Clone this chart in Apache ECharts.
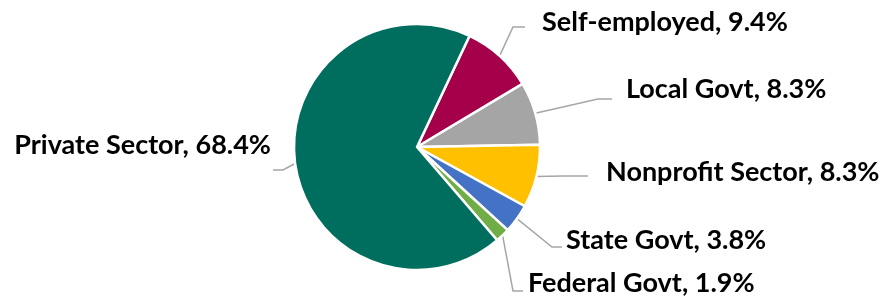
<!DOCTYPE html>
<html><head><meta charset="utf-8">
<script src="https://cdn.jsdelivr.net/npm/echarts@6/dist/echarts.min.js"></script>
<style>html,body{margin:0;padding:0;background:#fff}#c{width:887px;height:296px}</style>
</head><body><div id="c"></div>
<script>
const categories = ['Self-employed', 'Local Govt', 'Nonprofit Sector', 'State Govt', 'Federal Govt', 'Private Sector'];
const shares = [9.4, 8.3, 8.3, 3.8, 1.9, 68.4];
const colors = ['#A5004A', '#A5A5A5', '#FFC000', '#4472C4', '#70AD47', '#006E5F'];

// label placement (layout only): text anchor x,y, align, then leader elbow & end
const labelPlace = [
  {x: 542, y: 22, align: 'left', pts: [[513, 27], [525, 27]]},
  {x: 626, y: 89, align: 'left', pts: [[598, 99], [612, 99]]},
  {x: 606, y: 172, align: 'left', pts: [[563, 176], [588, 176]]},
  {x: 566, y: 240, align: 'left', pts: [[552, 247], [562, 247]]},
  {x: 528, y: 283, align: 'left', pts: [[513, 291], [523, 291]]},
  {x: 271, y: 145, align: 'right', pts: [[283, 170], [273, 170]]}
];

const chart = echarts.init(document.getElementById('c'), null, {renderer: 'canvas'});
chart.setOption({
  animation: false,
  series: [{
    type: 'pie',
    center: [417, 147],
    radius: 123,
    startAngle: 64.7,
    clockwise: true,
    avoidLabelOverlap: false,
    data: categories.map((n, i) => ({name: n, value: shares[i], itemStyle: {color: colors[i]}})),
    itemStyle: {borderColor: '#ffffff', borderWidth: 2.5},
    label: {
      show: true,
      position: 'outside',
      formatter: p => p.name + ', ' + p.value.toFixed(1) + '%',
      fontFamily: 'Lato',
      fontWeight: 'bold',
      fontSize: 27,
      color: '#000000'
    },
    labelLine: {show: true, lineStyle: {color: '#A6A6A6', width: 1.5}},
    labelLayout: function (params) {
      const lp = labelPlace[params.dataIndex];
      const start = params.labelLinePoints ? params.labelLinePoints[0] : lp.pts[0];
      return {
        x: lp.x, y: lp.y, align: lp.align, verticalAlign: 'middle',
        labelLinePoints: [start, lp.pts[0], lp.pts[1]]
      };
    },
    emphasis: {disabled: true}
  }]
});
</script></body></html>
